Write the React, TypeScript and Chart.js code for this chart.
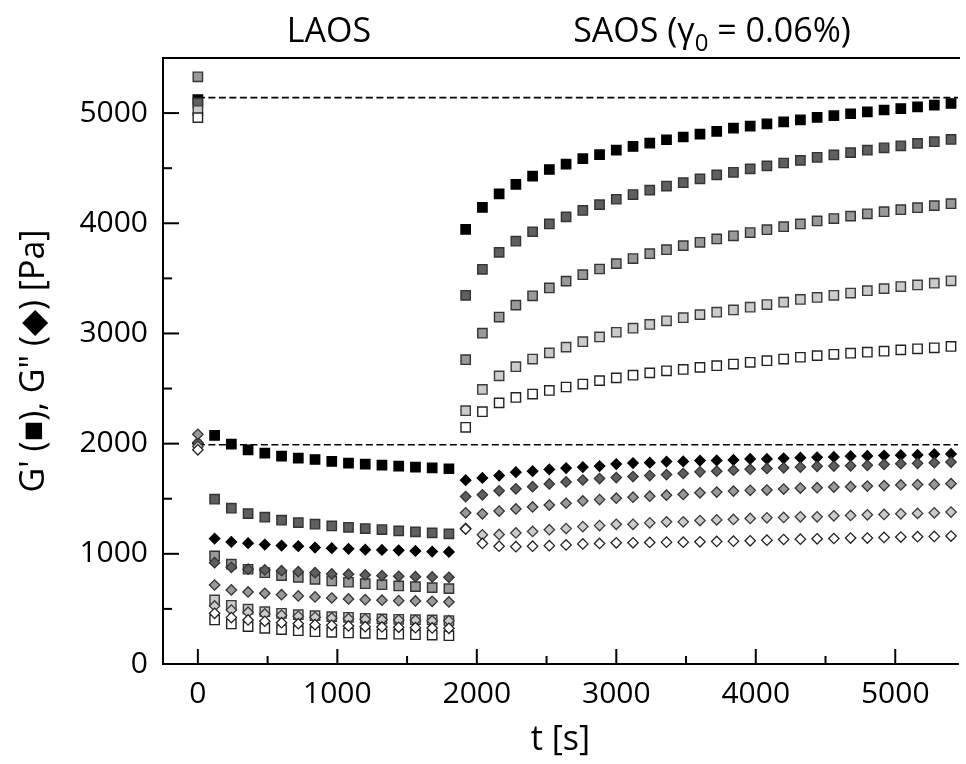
import React, { useEffect, useRef } from 'react';
import { Chart, registerables } from 'chart.js';

Chart.register(...registerables);

// time axis [s]: t = 0 (initial), LAOS 120..1800, SAOS 1920..5400
const timeSeconds = [
  0, 120, 240, 360, 480, 600, 720, 840, 960, 1080, 1200, 1320, 1440, 1560, 1680, 1800,
  1920, 2040, 2160, 2280, 2400, 2520, 2640, 2760, 2880, 3000, 3120, 3240, 3360, 3480, 3600,
  3720, 3840, 3960, 4080, 4200, 4320, 4440, 4560, 4680, 4800, 4920, 5040, 5160, 5280, 5400,
];

// G' (squares) [Pa]
const gPrimeBlack = [5122, 2074, 1995, 1944, 1914, 1887, 1869, 1856, 1838, 1824, 1815, 1806, 1796, 1787, 1781, 1772,
  3945, 4144, 4267, 4353, 4427, 4488, 4537, 4586, 4623, 4663, 4697, 4727, 4758, 4783, 4810, 4834, 4863, 4881, 4903, 4921, 4939, 4961, 4976, 4994, 5010, 5028, 5041, 5056, 5072, 5087];
const gPrimeDark = [5093, 1496, 1414, 1365, 1332, 1305, 1283, 1269, 1253, 1241, 1229, 1220, 1208, 1199, 1190, 1181,
  3346, 3582, 3736, 3837, 3923, 3994, 4058, 4116, 4169, 4218, 4261, 4301, 4338, 4368, 4403, 4439, 4463, 4494, 4521, 4547, 4571, 4599, 4620, 4641, 4663, 4685, 4703, 4725, 4740, 4761];
const gPrimeMid = [5329, 981, 906, 860, 829, 802, 787, 769, 754, 742, 729, 720, 708, 702, 693, 684,
  2762, 3002, 3149, 3257, 3342, 3413, 3475, 3533, 3585, 3634, 3680, 3724, 3760, 3797, 3827, 3858, 3886, 3916, 3942, 3969, 3994, 4021, 4043, 4065, 4086, 4105, 4123, 4141, 4160, 4178];
const gPrimeLight = [5023, 581, 533, 497, 475, 460, 448, 439, 430, 424, 415, 409, 406, 402, 400, 393,
  2299, 2492, 2615, 2698, 2768, 2824, 2876, 2925, 2968, 3011, 3048, 3082, 3115, 3143, 3171, 3193, 3213, 3238, 3262, 3284, 3309, 3327, 3346, 3367, 3388, 3407, 3426, 3440, 3456, 3478];
const gPrimeWhite = [4959, 400, 363, 339, 324, 312, 302, 293, 288, 282, 279, 272, 270, 266, 263, 257,
  2148, 2290, 2370, 2419, 2450, 2483, 2514, 2541, 2572, 2597, 2621, 2642, 2661, 2673, 2692, 2707, 2722, 2738, 2753, 2768, 2784, 2799, 2811, 2821, 2830, 2839, 2851, 2861, 2870, 2882];

// G'' (diamonds) [Pa]
const gDoubleBlack = [2000, 1138, 1108, 1096, 1084, 1075, 1069, 1057, 1051, 1045, 1038, 1035, 1032, 1026, 1020, 1017,
  1668, 1689, 1710, 1741, 1750, 1766, 1778, 1787, 1796, 1815, 1824, 1827, 1837, 1839, 1846, 1848, 1852, 1861, 1861, 1867, 1873, 1876, 1879, 1886, 1888, 1892, 1895, 1897, 1904, 1907];
const gDoubleDark = [2010, 920, 878, 860, 854, 847, 838, 829, 817, 815, 808, 802, 796, 793, 790, 787,
  1520, 1536, 1572, 1590, 1609, 1634, 1652, 1670, 1683, 1692, 1701, 1710, 1719, 1729, 1744, 1750, 1759, 1768, 1775, 1781, 1787, 1794, 1796, 1799, 1803, 1812, 1818, 1821, 1827, 1833];
const gDoubleMid = [2085, 717, 672, 654, 642, 629, 618, 609, 599, 590, 584, 579, 575, 572, 569, 563,
  1372, 1363, 1388, 1407, 1425, 1443, 1459, 1480, 1492, 1505, 1514, 1523, 1532, 1539, 1554, 1560, 1569, 1576, 1579, 1588, 1597, 1600, 1606, 1609, 1615, 1619, 1625, 1628, 1630, 1637];
const gDoubleLight = [1975, 527, 490, 470, 454, 442, 433, 424, 418, 411, 406, 402, 400, 397, 393, 393,
  1230, 1173, 1176, 1189, 1203, 1219, 1229, 1247, 1256, 1268, 1268, 1281, 1290, 1290, 1302, 1308, 1312, 1321, 1327, 1330, 1336, 1336, 1345, 1348, 1354, 1357, 1363, 1367, 1372, 1379];
const gDoubleWhite = [1944, 460, 421, 400, 388, 375, 366, 357, 351, 345, 339, 336, 333, 330, 327, 324,
  1225, 1094, 1069, 1065, 1069, 1074, 1081, 1090, 1094, 1100, 1100, 1103, 1106, 1106, 1109, 1112, 1115, 1118, 1124, 1130, 1133, 1136, 1139, 1143, 1143, 1149, 1152, 1155, 1158, 1161];

// dashed reference levels [Pa] and their time span [s]
const referenceLevels = [5140, 1990];
const referenceSpan = [0, 5450];

// axis ticks
const xTickValues = [0, 1000, 2000, 3000, 4000, 5000];
const xMinorTickValues = [500, 1500, 2500, 3500, 4500];
const yTickValues = [0, 1000, 2000, 3000, 4000, 5000];
const yMinorTickValues = [500, 1500, 2500, 3500, 4500];

const headerLeft = 'LAOS';
const headerRightMain = 'SAOS (γ';
const headerRightSub = '0';
const headerRightEnd = ' = 0.06%)';

const FONT = "'Open Sans', 'Noto Sans', sans-serif";

export default function App() {
  const ref = useRef<HTMLCanvasElement>(null);

  useEffect(() => {
    const canvas = ref.current;
    if (!canvas) return;
    const pts = (vals: number[]) => timeSeconds.map((t, i) => ({ x: t, y: vals[i] }));

    const fills = ['#000000', '#5f5f5f', '#999999', '#cbcbcb', '#ffffff'];
    const borders = ['#000000', '#333333', '#333333', '#3a3a3a', '#222222'];
    const squares = [gPrimeBlack, gPrimeDark, gPrimeMid, gPrimeLight, gPrimeWhite];
    const diamonds = [gDoubleBlack, gDoubleDark, gDoubleMid, gDoubleLight, gDoubleWhite];

    const datasets: any[] = [];
    referenceLevels.forEach((lvl, i) => {
      datasets.push({
        type: 'line',
        label: 'ref' + i,
        data: referenceSpan.map((t) => ({ x: t, y: lvl })),
        borderColor: '#000',
        borderWidth: 1.6,
        borderDash: [7, 3.5],
        pointRadius: 0,
        fill: false,
        order: 20,
      });
    });
    squares.forEach((vals, i) => {
      datasets.push({
        label: "G' " + i,
        data: pts(vals),
        pointStyle: 'rect',
        pointRadius: 6.6,
        backgroundColor: fills[i],
        borderColor: borders[i],
        borderWidth: 1.4,
        order: 10 - i,
      });
    });
    diamonds.forEach((vals, i) => {
      datasets.push({
        label: 'G" ' + i,
        data: pts(vals),
        pointStyle: 'rectRot',
        pointRadius: 5.2,
        backgroundColor: fills[i],
        borderColor: borders[i],
        borderWidth: 1.3,
        order: 5 - i,
      });
    });

    const decor = {
      id: 'decor',
      afterDraw(chart: any) {
        const ctx = chart.ctx as CanvasRenderingContext2D;
        const a = chart.chartArea;
        const xs = chart.scales.x;
        const ys = chart.scales.y;
        ctx.save();
        ctx.fillStyle = '#000000';
        // top frame line
        ctx.fillRect(a.left - 1, a.top - 1, a.right - a.left + 3, 2);
        // inward tick marks
        xTickValues.forEach((v) => {
          const p = xs.getPixelForValue(v);
          ctx.fillRect(p - 1, a.bottom - 15, 2, 15);
        });
        xMinorTickValues.forEach((v) => {
          const p = xs.getPixelForValue(v);
          ctx.fillRect(p - 1, a.bottom - 8, 2, 8);
        });
        yTickValues.forEach((v) => {
          const p = ys.getPixelForValue(v);
          ctx.fillRect(a.left, p - 1, 16, 2);
        });
        yMinorTickValues.forEach((v) => {
          const p = ys.getPixelForValue(v);
          ctx.fillRect(a.left, p - 1, 9, 2);
        });

        // header texts
        ctx.textBaseline = 'alphabetic';
        ctx.textAlign = 'left';
        const big = '34px ' + FONT;
        const small = '24px ' + FONT;
        ctx.font = big;
        const wl = ctx.measureText(headerLeft).width;
        ctx.fillText(headerLeft, 329 - wl / 2, 42);
        const w1 = ctx.measureText(headerRightMain).width;
        const w3 = ctx.measureText(headerRightEnd).width;
        ctx.font = small;
        const w2 = ctx.measureText(headerRightSub).width;
        const total = w1 + w2 + w3;
        const x0 = 712 - total / 2;
        ctx.font = big;
        ctx.fillText(headerRightMain, x0, 42);
        ctx.font = small;
        ctx.fillText(headerRightSub, x0 + w1, 51);
        ctx.font = big;
        ctx.fillText(headerRightEnd, x0 + w1 + w2, 42);
        ctx.restore();
      },
    };

    const chart = new Chart(canvas, {
      type: 'scatter',
      data: { datasets },
      options: {
        animation: false,
        responsive: false,
        devicePixelRatio: 1,
        layout: { padding: { top: 58, right: 1, left: 0, bottom: 0 } },
        plugins: { legend: { display: false }, tooltip: { enabled: false } },
        scales: {
          x: {
            type: 'linear',
            min: -250,
            max: 5450,
            afterBuildTicks: (s: any) => {
              s.ticks = xTickValues.map((v) => ({ value: v }));
            },
            afterFit: (s: any) => {
              s.height = 100;
              s.paddingLeft = 0;
              s.paddingRight = 0;
            },
            grid: { display: false, drawTicks: false },
            border: { display: true, color: '#000', width: 2 },
            ticks: {
              padding: 12,
              color: '#000',
              font: { family: FONT, size: 30 },
              maxRotation: 0,
              callback: (v: any) => String(v),
            },
            title: {
              display: true,
              text: 't [s]',
              color: '#000',
              font: { family: FONT, size: 34 },
              padding: { top: 0, bottom: 3 },
            },
          },
          y: {
            type: 'linear',
            min: 0,
            max: 5500,
            afterBuildTicks: (s: any) => {
              s.ticks = yTickValues.map((v) => ({ value: v }));
            },
            afterFit: (s: any) => {
              s.width = 163;
              s.paddingTop = 0;
              s.paddingBottom = 0;
            },
            grid: { display: false, drawTicks: false },
            border: { display: true, color: '#000', width: 2 },
            ticks: {
              padding: 15,
              color: '#000',
              font: { family: FONT, size: 30 },
              callback: (v: any) => String(v),
            },
            title: {
              display: true,
              text: 'G\' (■), G" (◆) [Pa]',
              color: '#000',
              font: { family: FONT, size: 34 },
              padding: { top: 14, bottom: 0 },
            },
          },
        },
      } as any,
      plugins: [decor],
    });
    return () => chart.destroy();
  }, []);

  return (
    <div style={{ position: 'fixed', left: 0, top: 0, width: 966, height: 764, background: '#fff' }}>
      <canvas ref={ref} width={966} height={764} style={{ display: 'block' }} />
    </div>
  );
}
